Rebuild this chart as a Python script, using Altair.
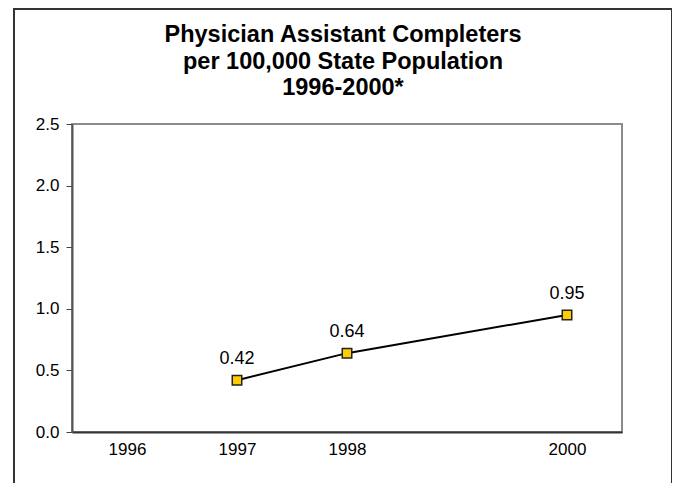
import altair as alt
import pandas as pd

years = [1997, 1998, 2000]
values = [0.42, 0.64, 0.95]
labels = ["0.42", "0.64", "0.95"]
x_ticks = [1996, 1997, 1998, 2000]
y_ticks = [0.0, 0.5, 1.0, 1.5, 2.0, 2.5]
title_lines = ["Physician Assistant Completers", "per 100,000 State Population", "1996-2000*"]

df = pd.DataFrame({"year": years, "value": values, "label": labels})

FONT = "Liberation Sans"

x = alt.X(
    "year:Q",
    scale=alt.Scale(domain=[1995.5, 2000.5], nice=False, zero=False),
    axis=alt.Axis(
        values=x_ticks, format="d", title=None, grid=False, ticks=False,
        labelFontSize=17, labelFont=FONT, labelColor="#000000", labelPadding=9,
        domainColor="#333333", domainWidth=2,
    ),
)
y = alt.Y(
    "value:Q",
    scale=alt.Scale(domain=[0, 2.5], nice=False),
    axis=alt.Axis(
        values=y_ticks, format=".1f", title=None, grid=False,
        tickSize=6, tickColor="#444444", tickWidth=1,
        labelFontSize=17, labelFont=FONT, labelColor="#000000", labelPadding=7,
        domainColor="#555555", domainWidth=2,
    ),
)

base = alt.Chart(df)
one = alt.Chart(pd.DataFrame({"k": [0]}))

frame = one.mark_rect(
    fill=None, stroke="#333333", strokeWidth=2, clip=False
).encode(
    x=alt.value(-58), x2=alt.value(600), y=alt.value(-115), y2=alt.value(400)
)

title = one.mark_text(
    text=title_lines, font=FONT, fontSize=23.5, fontWeight="bold", color="#000000",
    align="center", baseline="alphabetic", lineHeight=26.5, clip=False,
).encode(x=alt.value(271), y=alt.value(-82))

line = base.mark_line(color="#000000", strokeWidth=2).encode(x=x, y=y)
points = base.mark_point(
    shape="square", filled=True, fill="#FFCC00", stroke="#222222",
    strokeWidth=1.5, size=90, opacity=1
).encode(x=x, y=y)
text = base.mark_text(
    dy=-21, fontSize=18, font=FONT, color="#000000"
).encode(x=x, y=y, text="label:N")

chart = alt.layer(frame, title, line, points, text).properties(
    width=550,
    height=308,
    autosize=alt.AutoSizeParams(type="none"),
    padding={"left": 64, "top": 116, "right": 50, "bottom": 51},
).configure_view(stroke="#8c8c8c", strokeWidth=2)

chart.save("out.html", embed_options={"renderer": "svg", "actions": False})
